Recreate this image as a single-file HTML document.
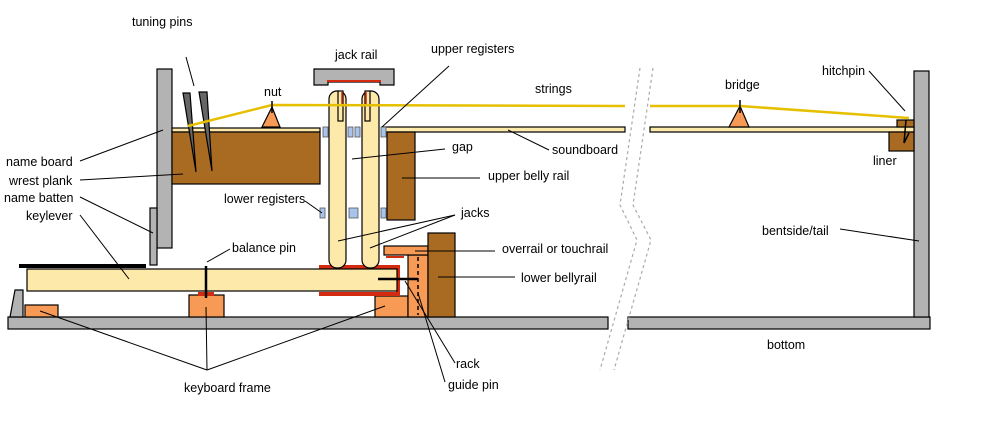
<!DOCTYPE html>
<html><head><style>body{margin:0;background:#fff}svg{display:block}text{font-family:"Liberation Sans",sans-serif;font-size:12.5px;fill:#000}</style></head><body>
<svg width="1000" height="438" viewBox="0 0 1000 438" xmlns="http://www.w3.org/2000/svg">
<g stroke="#000" stroke-width="1.2">
<!-- bottom -->
<rect x="8" y="317" width="600" height="12" fill="#b3b3b3"/>
<rect x="628" y="317" width="302" height="12" fill="#b3b3b3"/>
<polygon points="10,317 15,290 23,290 23,317" fill="#b3b3b3"/>
<!-- bentside -->
<rect x="914" y="71" width="15" height="246" fill="#b3b3b3"/>
<!-- keyboard frame -->
<rect x="25" y="305" width="33" height="12" fill="#f79a55"/>
<rect x="189" y="295" width="35" height="22" fill="#f79a55"/>
<rect x="375" y="296" width="33" height="21" fill="#f79a55"/>
<!-- red guide -->
<path d="M319,267 H398 V294 H319" fill="none" stroke="#d42a10" stroke-width="4"/>
<!-- keylever -->
<rect x="27" y="269" width="370" height="22" fill="#fde9a9"/>
<line x1="19" y1="266" x2="146" y2="266" stroke-width="4"/>
<!-- balance pin -->
<rect x="198" y="292" width="16" height="4" fill="#d42a10" stroke="none"/>
<line x1="206" y1="266" x2="206" y2="298" stroke-width="2.5"/>
<!-- rack, overrail, lower belly rail -->
<rect x="408" y="255" width="20" height="62" fill="#f79a55"/>
<line x1="418" y1="257" x2="418" y2="315" stroke-dasharray="4,3" stroke-width="1.5"/>
<rect x="384" y="246" width="44" height="9" fill="#f79a55"/>
<rect x="386" y="256" width="18" height="2" fill="#d42a10" stroke="none"/>
<rect x="428" y="233" width="27" height="84" fill="#a96b22"/>
<line x1="378" y1="279" x2="418" y2="279" stroke-width="2.5"/>
<!-- name board, batten -->
<rect x="157" y="69" width="15" height="179" fill="#b3b3b3"/>
<rect x="150" y="208" width="7" height="57" fill="#b3b3b3"/>
<!-- wrest plank -->
<rect x="172" y="128" width="148" height="4" fill="#fde9a9"/>
<rect x="172" y="132" width="148" height="52" fill="#a96b22"/>
<!-- soundboard -->
<rect x="382" y="127" width="243" height="5" fill="#fde9a9"/>
<rect x="650" y="127" width="264" height="5" fill="#fde9a9"/>
<!-- upper belly rail -->
<rect x="387" y="132" width="28" height="88" fill="#a96b22"/>
<!-- liner -->
<rect x="889" y="132" width="25" height="19" fill="#a96b22"/>
<rect x="897" y="120" width="17" height="7" fill="#a96b22"/>
<!-- tuning pins -->
<polygon points="183,93 190,93 196,172" fill="#666"/>
<polygon points="199,92 207,92 212,171" fill="#666"/>
<!-- nut, bridge -->
<polygon points="262,127 280,127 272,107" fill="#f79a55"/>
<polygon points="729,127 749,127 740,106" fill="#f79a55"/>
<!-- jack rail -->
<path d="M314,69 H394 V85 H380 V82 H328 V85 H314 Z" fill="#b3b3b3"/>
<rect x="327" y="80" width="54" height="2" fill="#d42a10" stroke="none"/>
<!-- jacks -->
<rect x="329" y="91" width="17" height="177" rx="8" fill="#fde9a9"/>
<rect x="362" y="91" width="17" height="177" rx="8" fill="#fde9a9"/>
<rect x="338" y="91" width="5" height="30" fill="#fde9a9"/>
<rect x="365" y="91" width="5" height="30" fill="#fde9a9"/>
<line x1="342" y1="92" x2="342" y2="104" stroke="#d42a10" stroke-width="1.5"/>
<line x1="366" y1="92" x2="366" y2="104" stroke="#d42a10" stroke-width="1.5"/>
<!-- registers -->
<g fill="#a9c4ea" stroke="#555" stroke-width="0.8">
<rect x="323" y="127" width="5" height="10"/><rect x="348" y="127" width="5" height="10"/><rect x="355" y="127" width="5" height="10"/><rect x="381" y="127" width="5" height="10"/>
<rect x="320" y="208" width="5" height="10"/><rect x="349" y="208" width="9" height="10"/><rect x="381" y="208" width="5" height="10"/>
</g>
<!-- strings -->
<polyline points="188,126 272,105 625,106" fill="none" stroke="#e6c000" stroke-width="2.5"/>
<polyline points="650,106 740,106 909,118" fill="none" stroke="#e6c000" stroke-width="2.5"/>
<line x1="272" y1="101" x2="272" y2="113" stroke-width="1.5"/>
<line x1="740" y1="100" x2="740" y2="113" stroke-width="1.5"/>
<polyline points="906,120 904,143 909,133" fill="none" stroke-width="1.5"/>
</g>
<!-- break lines -->
<g fill="none" stroke="#aaa" stroke-width="1.2" stroke-dasharray="3,3">
<polyline points="640,68 620,205 637,240 600,370"/>
<polyline points="653,68 633,205 651,240 614,370"/>
</g>
<!-- leader lines -->
<g stroke="#000" stroke-width="1" fill="none">
<line x1="186" y1="57" x2="194" y2="86"/>
<line x1="80" y1="161" x2="163" y2="130"/>
<line x1="80" y1="180" x2="183" y2="174"/>
<line x1="80" y1="197" x2="153" y2="233"/>
<line x1="80" y1="215" x2="129" y2="279"/>
<line x1="230" y1="249" x2="207" y2="262"/>
<line x1="305" y1="201" x2="322" y2="213"/>
<line x1="449" y1="66" x2="382" y2="127"/>
<line x1="445" y1="149" x2="352" y2="159"/>
<line x1="480" y1="178" x2="402" y2="178"/>
<line x1="455" y1="215" x2="338" y2="241"/>
<line x1="455" y1="215" x2="370" y2="248"/>
<line x1="495" y1="251" x2="415" y2="251"/>
<line x1="515" y1="277" x2="438" y2="277"/>
<line x1="549" y1="150" x2="508" y2="130"/>
<line x1="840" y1="229" x2="919" y2="241"/>
<line x1="869" y1="71" x2="905" y2="111"/>
<line x1="455" y1="363" x2="405" y2="281"/>
<line x1="445" y1="382" x2="418" y2="293"/>
<line x1="207" y1="370" x2="40" y2="311"/>
<line x1="207" y1="370" x2="206" y2="307"/>
<line x1="207" y1="370" x2="385" y2="306"/>
</g>
<!-- labels -->
<text x="132" y="26">tuning pins</text>
<text x="264" y="96">nut</text>
<text x="335" y="59">jack rail</text>
<text x="431" y="53">upper registers</text>
<text x="535" y="93">strings</text>
<text x="725" y="89">bridge</text>
<text x="822" y="75">hitchpin</text>
<text x="6" y="166">name board</text>
<text x="9" y="185">wrest plank</text>
<text x="4" y="202">name batten</text>
<text x="26" y="220">keylever</text>
<text x="224" y="203">lower registers</text>
<text x="452" y="151">gap</text>
<text x="552" y="154">soundboard</text>
<text x="488" y="180">upper belly rail</text>
<text x="461" y="217">jacks</text>
<text x="502" y="253">overrail or touchrail</text>
<text x="521" y="282">lower bellyrail</text>
<text x="232" y="252">balance pin</text>
<text x="873" y="165">liner</text>
<text x="762" y="235">bentside/tail</text>
<text x="767" y="349">bottom</text>
<text x="456" y="368">rack</text>
<text x="448" y="389">guide pin</text>
<text x="184" y="392">keyboard frame</text>
</svg>
</body></html>
